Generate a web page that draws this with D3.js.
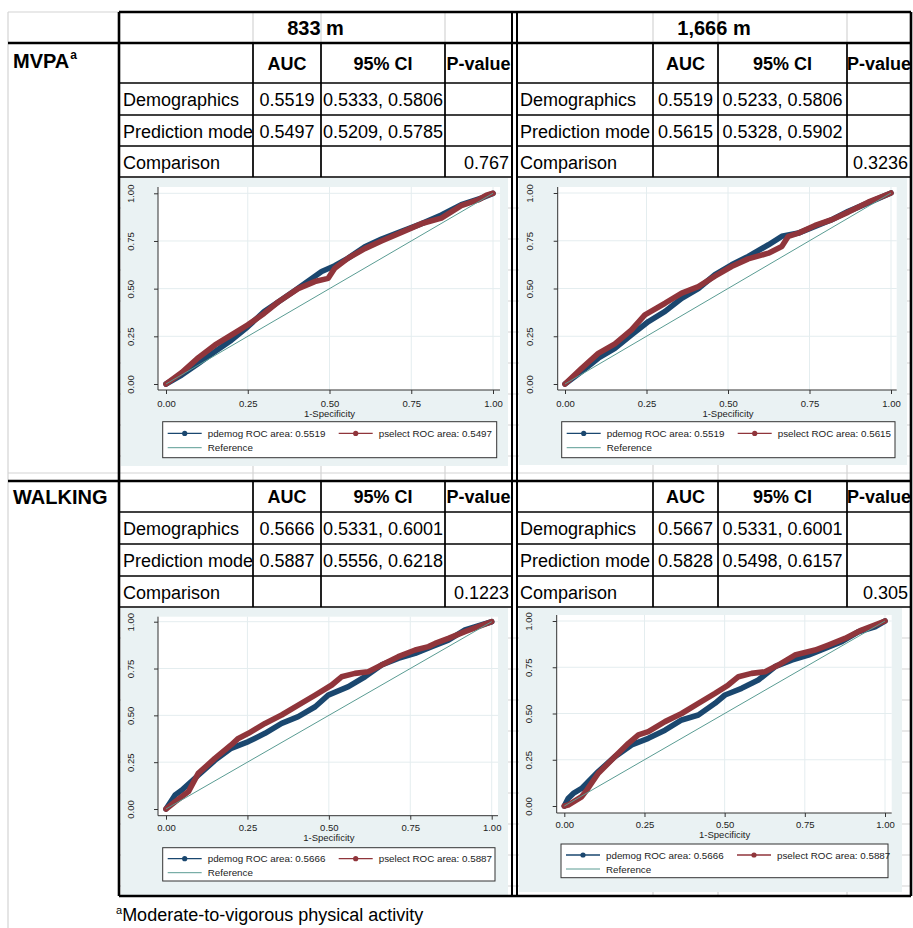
<!DOCTYPE html>
<html lang="en">
<head>
<meta charset="UTF-8">
<title>ROC comparison table</title>
<script src="https://cdn.jsdelivr.net/npm/d3@7"></script>
<style>
	body { margin: 0; background: #fff; }
	svg text { font-family: "Liberation Sans", Arial, sans-serif; }
	.tick text { fill: #222; }
</style>
</head>
<body>
<div id="chart"></div>
<script>
// ---- data ----
var distances = ["833 m", "1,666 m"];
var activities = ["MVPA", "WALKING"];
var rowLabels = ["Demographics", "Prediction mode", "Comparison"];
var colHeaders = ["AUC", "95% CI", "P-value"];

// panel order: MVPA 833, MVPA 1666, WALKING 833, WALKING 1666
var aucDemographics = ["0.5519", "0.5519", "0.5666", "0.5667"];
var ciDemographics = ["0.5333, 0.5806", "0.5233, 0.5806", "0.5331, 0.6001", "0.5331, 0.6001"];
var aucPrediction = ["0.5497", "0.5615", "0.5887", "0.5828"];
var ciPrediction = ["0.5209, 0.5785", "0.5328, 0.5902", "0.5556, 0.6218", "0.5498, 0.6157"];
var pComparison = ["0.767", "0.3236", "0.1223", "0.305"];
var legendDemog = ["0.5519", "0.5519", "0.5666", "0.5666"];
var legendSelect = ["0.5497", "0.5615", "0.5887", "0.5887"];

var axisTicks = [0, 0.25, 0.5, 0.75, 1];
var footnote = "Moderate-to-vigorous physical activity";

// ROC curves, [1-specificity, sensitivity]
var rocDemogMvpa833 = [[0,0],[0.048,0.047],[0.099,0.108],[0.15,0.17],[0.2,0.23],[0.25,0.30],[0.30,0.38],[0.343,0.43],[0.394,0.49],[0.435,0.54],[0.476,0.59],[0.516,0.62],[0.557,0.66],[0.608,0.72],[0.659,0.76],[0.72,0.80],[0.78,0.84],[0.842,0.886],[0.903,0.94],[0.964,0.974],[1,1]];
var rocSelectMvpa833 = [[0,0],[0.048,0.06],[0.099,0.138],[0.15,0.205],[0.2,0.257],[0.25,0.31],[0.30,0.37],[0.343,0.43],[0.404,0.50],[0.455,0.537],[0.496,0.554],[0.516,0.607],[0.557,0.66],[0.608,0.71],[0.659,0.75],[0.72,0.795],[0.78,0.84],[0.842,0.87],[0.903,0.935],[0.954,0.965],[0.98,0.99],[1,1]];
var rocDemogMvpa1666 = [[0,0],[0.051,0.065],[0.102,0.135],[0.153,0.187],[0.204,0.257],[0.256,0.327],[0.307,0.38],[0.358,0.449],[0.409,0.50],[0.46,0.572],[0.511,0.624],[0.562,0.668],[0.624,0.729],[0.665,0.773],[0.716,0.79],[0.767,0.825],[0.818,0.86],[0.869,0.904],[0.93,0.948],[1,1]];
var rocSelectMvpa1666 = [[0,0],[0.051,0.082],[0.102,0.16],[0.153,0.21],[0.204,0.283],[0.245,0.362],[0.307,0.423],[0.358,0.476],[0.409,0.51],[0.46,0.565],[0.511,0.615],[0.562,0.655],[0.624,0.685],[0.665,0.72],[0.685,0.773],[0.716,0.79],[0.767,0.83],[0.818,0.86],[0.869,0.9],[0.93,0.952],[1,1]];
var rocDemogWalk833 = [[0,0],[0.028,0.075],[0.048,0.10],[0.099,0.18],[0.15,0.26],[0.2,0.324],[0.253,0.36],[0.304,0.404],[0.355,0.457],[0.406,0.493],[0.458,0.546],[0.498,0.608],[0.56,0.653],[0.611,0.706],[0.662,0.769],[0.713,0.804],[0.765,0.831],[0.816,0.867],[0.867,0.902],[0.918,0.956],[1,1]];
var rocSelectWalk833 = [[0,0],[0.028,0.039],[0.069,0.093],[0.099,0.19],[0.15,0.27],[0.2,0.342],[0.222,0.377],[0.253,0.404],[0.304,0.457],[0.355,0.502],[0.406,0.555],[0.458,0.608],[0.509,0.662],[0.539,0.706],[0.58,0.724],[0.621,0.733],[0.662,0.769],[0.713,0.813],[0.765,0.849],[0.806,0.867],[0.826,0.884],[0.867,0.911],[0.918,0.947],[1,1]];
var rocDemogWalk1666 = [[0,0],[0.012,0.041],[0.028,0.068],[0.054,0.095],[0.106,0.186],[0.158,0.267],[0.21,0.33],[0.262,0.366],[0.314,0.41],[0.366,0.465],[0.418,0.492],[0.47,0.555],[0.501,0.6],[0.553,0.636],[0.605,0.681],[0.657,0.753],[0.709,0.789],[0.761,0.816],[0.813,0.852],[0.865,0.888],[0.917,0.942],[0.969,0.969],[1,1]];
var rocSelectWalk1666 = [[0,0],[0.012,0.005],[0.054,0.05],[0.07,0.086],[0.106,0.177],[0.158,0.267],[0.2,0.339],[0.231,0.384],[0.262,0.402],[0.314,0.456],[0.366,0.5],[0.418,0.555],[0.47,0.609],[0.511,0.654],[0.543,0.699],[0.584,0.717],[0.626,0.726],[0.667,0.762],[0.719,0.816],[0.782,0.843],[0.823,0.87],[0.875,0.906],[0.927,0.951],[1,1]];

var rocDemog = [rocDemogMvpa833, rocDemogMvpa1666, rocDemogWalk833, rocDemogWalk1666];
var rocSelect = [rocSelectMvpa833, rocSelectMvpa1666, rocSelectWalk833, rocSelectWalk1666];

// ---- layout ----
var width = 913, height = 928;
var blue = "#1a476f", red = "#90353b", teal = "#5a9c93", panelBg = "#eaf2f3", gridGray = "#d4d4d4";

var panels = [
	{cols:[119,253,321,445,512], rows:[43,83,115,146,177], bg:[121,178,508,466], frame:[158,187,500,390], x:[166,493], y:[384,193.3], legend:[162.7,421.7,334,36], tickY:407, titleY:416.5},
	{cols:[516,653,718,847,911], rows:[43,83,115,146,177], bg:[519,178,907,465], frame:[557.7,187,896.7,390], x:[565,891], y:[384,193], legend:[561.7,421.7,333.3,36], tickY:407, titleY:416.5},
	{cols:[119,253,321,445,512], rows:[481,512,544,576,607], bg:[121,608,508,895], frame:[158,616.7,498,815.7], x:[166,491.7], y:[809,621.7], legend:[162.7,847.7,332.3,33.3], tickY:831, titleY:841},
	{cols:[516,653,718,847,911], rows:[481,512,544,576,607], bg:[519,608,902,892], frame:[556.7,615,891.7,813], x:[564.3,885], y:[806,621], legend:[561,844,327,33.7], tickY:828, titleY:838}
];

var svg = d3.select("#chart").append("svg")
	.attr("width", width)
	.attr("height", height);

svg.append("rect").attr("width", width).attr("height", height).attr("fill", "#fff");

// spreadsheet gridlines behind everything
var grid = svg.append("g").attr("stroke", gridGray).attr("stroke-width", 1.2);
[253,321,445,653,718,847].forEach(function(x){
	grid.append("line").attr("x1", x).attr("x2", x).attr("y1", 12).attr("y2", 896);
});
grid.append("line").attr("x1", 8).attr("x2", 8).attr("y1", 12).attr("y2", height);
grid.append("line").attr("x1", 8).attr("x2", 119).attr("y1", 12).attr("y2", 12);
grid.append("line").attr("x1", 8).attr("x2", 911).attr("y1", 473).attr("y2", 473);
d3.range(208, 466, 31).concat(d3.range(638, 892, 31)).forEach(function(y){
	grid.append("line").attr("x1", 119).attr("x2", 911).attr("y1", y).attr("y2", y);
});

var fmt = d3.format(".2f");
var line = d3.line();

panels.forEach(function(p, i){
	var g = svg.append("g");

	// panel background
	g.append("rect")
		.attr("x", p.bg[0]).attr("y", p.bg[1])
		.attr("width", p.bg[2] - p.bg[0]).attr("height", p.bg[3] - p.bg[1])
		.attr("fill", panelBg);
	g.append("rect")
		.attr("x", p.frame[0]).attr("y", p.frame[1])
		.attr("width", p.frame[2] - p.frame[0]).attr("height", p.frame[3] - p.frame[1])
		.attr("fill", "#fff");

	var xs = d3.scaleLinear().domain([0,1]).range(p.x);
	var ys = d3.scaleLinear().domain([0,1]).range(p.y);
	line.x(function(d){ return xs(d[0]); }).y(function(d){ return ys(d[1]); });

	// gridlines
	axisTicks.slice(1).forEach(function(t){
		g.append("line").attr("x1", xs(t)).attr("x2", xs(t)).attr("y1", p.frame[1]).attr("y2", p.frame[3])
			.attr("stroke", "#e4edef");
		g.append("line").attr("x1", p.frame[0]).attr("x2", p.frame[2]).attr("y1", ys(t)).attr("y2", ys(t))
			.attr("stroke", "#e4edef");
	});

	// axes
	var xAxis = g.append("g").attr("transform", "translate(0," + p.frame[3] + ")")
		.call(d3.axisBottom(xs).tickValues(axisTicks).tickFormat(fmt).tickSize(4).tickPadding(3));
	xAxis.select(".domain").remove();
	xAxis.selectAll(".tick line").attr("stroke", "#333");
	xAxis.selectAll(".tick text").attr("font-size", 9.5).attr("y", null).attr("dy", null)
		.attr("transform", "translate(0," + (p.tickY - p.frame[3]) + ")");

	var yAxis = g.append("g").attr("transform", "translate(" + p.frame[0] + ",0)")
		.call(d3.axisLeft(ys).tickValues(axisTicks).tickFormat(fmt).tickSize(4));
	yAxis.select(".domain").remove();
	yAxis.selectAll(".tick line").attr("stroke", "#333");
	yAxis.selectAll(".tick text").attr("font-size", 9.5).attr("x", null).attr("dy", null)
		.attr("text-anchor", "middle").attr("dominant-baseline", "central")
		.attr("transform", "translate(-28,0) rotate(-90)");

	g.append("line").attr("x1", p.frame[0]).attr("x2", p.frame[2]).attr("y1", p.frame[3]).attr("y2", p.frame[3])
		.attr("stroke", "#333");
	g.append("line").attr("x1", p.frame[0]).attr("x2", p.frame[0]).attr("y1", p.frame[1]).attr("y2", p.frame[3])
		.attr("stroke", "#333");

	g.append("text").attr("x", (p.x[0] + p.x[1]) / 2).attr("y", p.titleY)
		.attr("text-anchor", "middle").attr("font-size", 9.5).attr("fill", "#222")
		.text("1-Specificity");

	// curves
	g.append("path").datum(rocDemog[i]).attr("d", line)
		.attr("fill", "none").attr("stroke", blue).attr("stroke-width", 5.6)
		.attr("stroke-linejoin", "round").attr("stroke-linecap", "round");
	g.append("path").datum(rocSelect[i]).attr("d", line)
		.attr("fill", "none").attr("stroke", red).attr("stroke-width", 5.6)
		.attr("stroke-linejoin", "round").attr("stroke-linecap", "round");
	g.append("line").attr("x1", xs(0)).attr("y1", ys(0)).attr("x2", xs(1)).attr("y2", ys(1))
		.attr("stroke", teal).attr("stroke-width", 1);

	// legend
	var L = p.legend;
	var lg = g.append("g").attr("transform", "translate(" + L[0] + "," + L[1] + ")");
	lg.append("rect").attr("width", L[2]).attr("height", L[3]).attr("fill", "#fff")
		.attr("stroke", "#333").attr("stroke-width", 1);
	var r1 = L[3] > 35 ? 11.7 : 11, r2 = L[3] > 35 ? 26 : 25;
	var items = [
		{x: 5, y: r1, color: blue, dot: true, label: "pdemog ROC area: " + legendDemog[i]},
		{x: 176, y: r1, color: red, dot: true, label: "pselect ROC area: " + legendSelect[i]},
		{x: 5, y: r2, color: teal, dot: false, label: "Reference"}
	];
	items.forEach(function(it){
		lg.append("line").attr("x1", it.x).attr("x2", it.x + 34).attr("y1", it.y).attr("y2", it.y)
			.attr("stroke", it.color).attr("stroke-width", it.dot ? 1.3 : 1);
		if (it.dot) lg.append("circle").attr("cx", it.x + 17).attr("cy", it.y).attr("r", 2.6).attr("fill", it.color);
		lg.append("text").attr("x", it.x + 40).attr("y", it.y + 3.5)
			.attr("font-size", 9.8).attr("fill", "#222").text(it.label);
	});

	// table cells
	var c = p.cols, r = p.rows;
	var t = svg.append("g").attr("font-size", 18).attr("fill", "#000");
	colHeaders.forEach(function(h, k){
		t.append("text").attr("x", (c[k+1] + c[k+2]) / 2).attr("y", (r[0] + r[1]) / 2 + 6.5)
			.attr("text-anchor", "middle").attr("font-weight", "bold").text(h);
	});
	rowLabels.forEach(function(lab, k){
		t.append("text").attr("x", c[0] + 4).attr("y", (r[k+1] + r[k+2]) / 2 + 7).text(lab);
	});
	var cy = function(k){ return (r[k+1] + r[k+2]) / 2 + 7; };
	var mid = function(k){ return (c[k] + c[k+1]) / 2; };
	[[aucDemographics, 1, 0], [ciDemographics, 2, 0], [aucPrediction, 1, 1], [ciPrediction, 2, 1]].forEach(function(v){
		t.append("text").attr("x", mid(v[1])).attr("y", cy(v[2])).attr("text-anchor", "middle").text(v[0][i]);
	});
	t.append("text").attr("x", c[4] - 3).attr("y", cy(2)).attr("text-anchor", "end").text(pComparison[i]);

	// thin table lines
	var tl = svg.append("g").attr("stroke", "#000").attr("stroke-width", 1.7);
	r.slice(1).forEach(function(y){
		tl.append("line").attr("x1", c[0]).attr("x2", c[4]).attr("y1", y).attr("y2", y);
	});
	c.slice(1, 4).forEach(function(x){
		tl.append("line").attr("x1", x).attr("x2", x).attr("y1", r[0]).attr("y2", r[4]);
	});
});

// column headers and row group labels
distances.forEach(function(d, k){
	svg.append("text").attr("x", k === 0 ? 315.5 : 714).attr("y", 35)
		.attr("text-anchor", "middle").attr("font-size", 20).attr("font-weight", "bold").text(d);
});
activities.forEach(function(a, k){
	var txt = svg.append("text").attr("x", 13).attr("y", k === 0 ? 68 : 504)
		.attr("font-size", 20).attr("font-weight", "bold").text(a);
	if (k === 0) txt.append("tspan").attr("font-size", 12).attr("dx", 1).attr("dy", -9).text("a");
});

// thick borders
var thick = svg.append("g").attr("stroke", "#000").attr("stroke-width", 2.6);
[[119,12,911,12],[8,43,911,43],[8,481,911,481],[119,896,911,896],
 [119,12,119,896],[512,12,512,896],[517,12,517,896],[911,12,911,896]].forEach(function(s){
	thick.append("line").attr("x1", s[0]).attr("y1", s[1]).attr("x2", s[2]).attr("y2", s[3]);
});
thick.selectAll("line").filter(function(d, i){ return i >= 5 && i <= 6; }).attr("stroke-width", 2);

// footnote
var fn = svg.append("text").attr("x", 116).attr("y", 921).attr("font-size", 18);
fn.append("tspan").attr("font-size", 11).attr("dy", -7).text("a");
fn.append("tspan").attr("dy", 7).text(footnote);
</script>
</body>
</html>
